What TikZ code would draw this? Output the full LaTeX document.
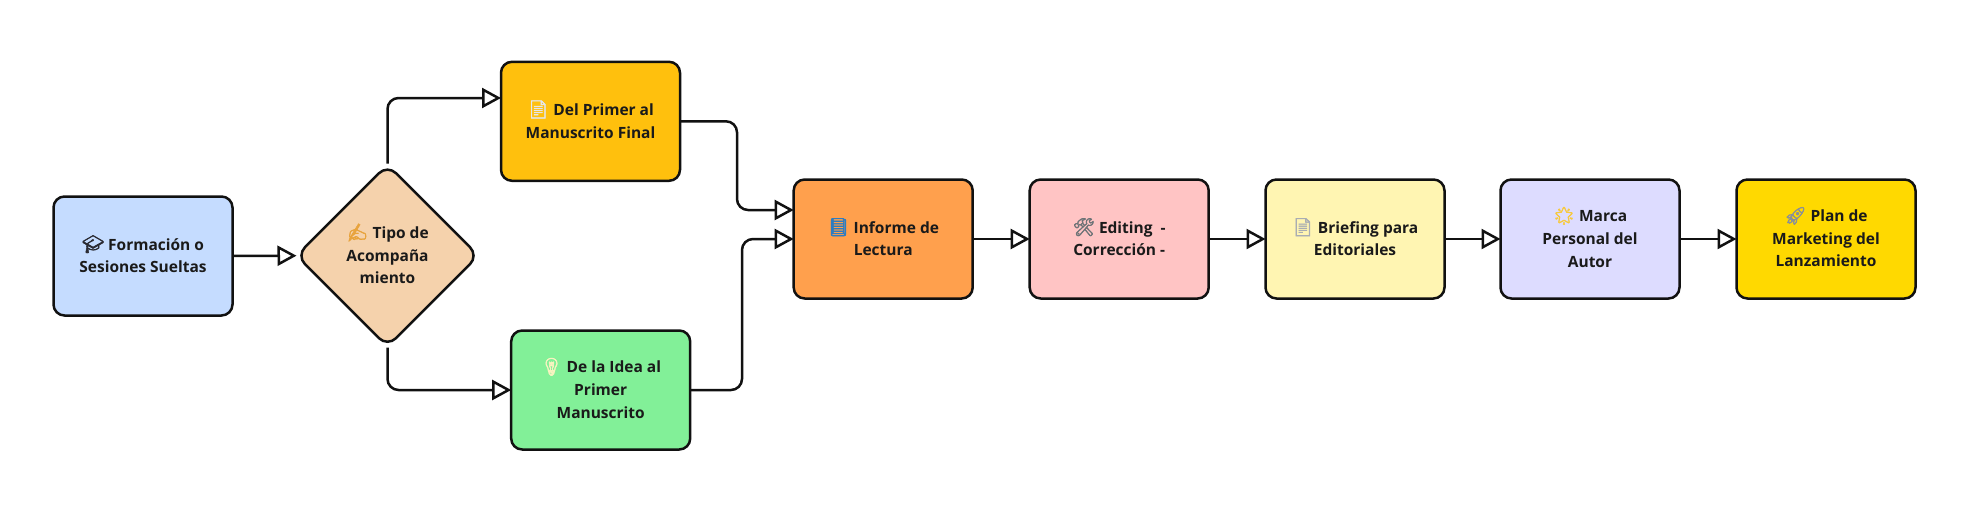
\documentclass[tikz,border=0pt]{standalone}
\usepackage{fontspec}
\setmainfont{Open Sans}
\newfontfamily\emojifont{Noto Emoji}[FakeBold=2.5]
\usetikzlibrary{arrows.meta,shapes.geometric}
\definecolor{inkc}{HTML}{1A1A1A}
\definecolor{linec}{HTML}{111111}
\newcommand{\emo}[2]{{\emojifont\fontsize{17.5}{22.5}\selectfont\textcolor[HTML]{#1}{#2}}}
\tikzset{
  flowbox/.style={draw=linec,line width=2.5pt,rounded corners=11pt,minimum width=179pt,minimum height=119pt,
    inner sep=0pt,outer sep=0pt,align=center,text=inkc,font=\fontsize{15.5}{22.6}\selectfont\bfseries,
    execute at end node={\rule[-4pt]{0pt}{4pt}}},
  decbox/.style={flowbox,shape=diamond,aspect=1,rounded corners=12pt,minimum width=182pt,minimum height=182pt},
  link/.style={draw=linec,line width=2.5pt,rounded corners=11pt,shorten >=0pt,shorten <=1pt,
    -{Triangle[open,fill=white,length=19pt,width=20pt,line width=2.5pt]}}
}
\begin{document}
\begin{tikzpicture}[x=1pt,y=-1pt]
\useasboundingbox (0,0) rectangle (1974,506);
\node[flowbox,fill={rgb,255:red,197;green,220;blue,255}] (a) at (143,256) {\emo{2B2B33}{🎓} Formación o\\Sesiones Sueltas};
\node[decbox,fill={rgb,255:red,245;green,210;blue,172}] (b) at (387.5,255.7) {\emo{E8A33D}{✍} Tipo de\\Acompaña\\miento};
\node[flowbox,fill={rgb,255:red,255;green,192;blue,13}] (c) at (590.5,121.3) {\emo{E4E6EA}{📄} Del Primer al\\Manuscrito Final};
\node[flowbox,fill={rgb,255:red,130;green,240;blue,152}] (d) at (600.7,390) {\emo{F7F3C0}{💡} De la Idea al\\Primer\\Manuscrito};
\node[flowbox,fill={rgb,255:red,255;green,160;blue,77}] (e) at (883.2,239) {\emo{2E7CC0}{📘} Informe de\\Lectura};
\node[flowbox,fill={rgb,255:red,255;green,196;blue,196}] (f) at (1119.2,239) {\emo{6E7377}{🛠} Editing~ -\\Corrección -};
\node[flowbox,fill={rgb,255:red,255;green,245;blue,178}] (g) at (1355,239) {\emo{A9ADB2}{📄} Briefing para\\Editoriales};
\node[flowbox,fill={rgb,255:red,221;green,220;blue,255}] (h) at (1590,239) {\emo{F7C93E}{🌟} Marca\\Personal del\\Autor};
\node[flowbox,fill={rgb,255:red,255;green,217;blue,0}] (i) at (1826,239) {\emo{8A8F98}{🚀} Plan de\\Marketing del\\Lanzamiento};
\coordinate (cin) at ([yshift=23.3pt]c.west);
\coordinate (ein1) at ([yshift=29pt]e.west);
\coordinate (j1) at (737,0);
\coordinate (j2) at (742,0);
\draw[link] (a.east) -- (b.west);
\draw[link] (b.north) -- (b.north |- cin) -- (cin);
\draw[link] (b.south) -- (b.south |- d.west) -- (d.west);
\draw[link] (c.east) -- (c.east -| j1) -- (j1 |- ein1) -- (ein1);
\draw[link] (d.east) -- (d.east -| j2) -- (j2 |- e.west) -- (e.west);
\draw[link] (e.east) -- (f.west);
\draw[link] (f.east) -- (g.west);
\draw[link] (g.east) -- (h.west);
\draw[link] (h.east) -- (i.west);
\end{tikzpicture}
\end{document}
